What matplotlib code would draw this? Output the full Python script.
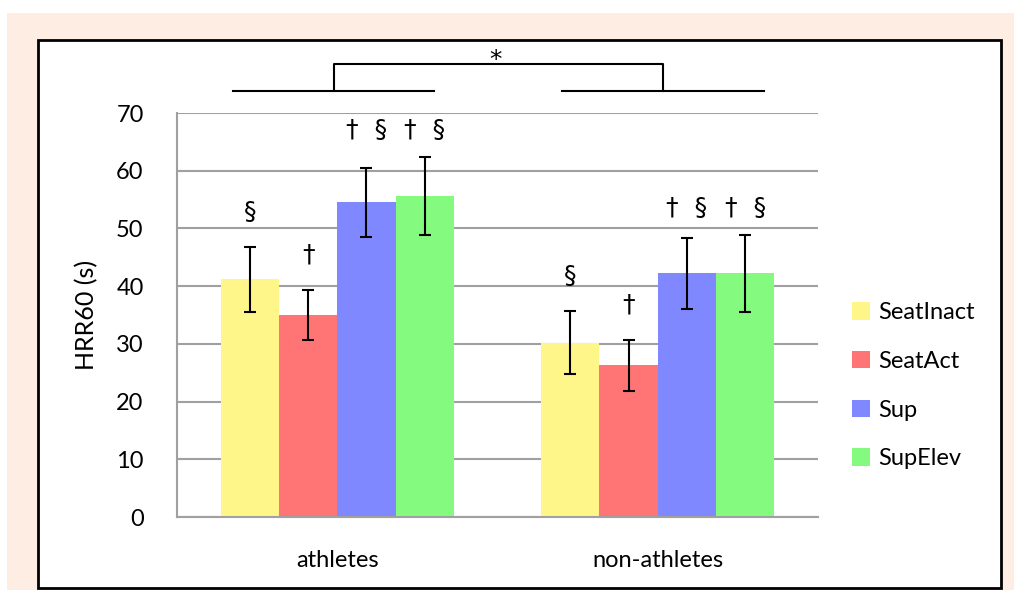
import matplotlib
matplotlib.use("Agg")
import matplotlib.pyplot as plt
from matplotlib.patches import Rectangle
import numpy as np

plt.rcParams['font.family'] = ['Lato', 'DejaVu Sans']

groups = ["athletes", "non-athletes"]
series = ["SeatInact", "SeatAct", "Sup", "SupElev"]
means = {
    "SeatInact": [41.2, 30.2],
    "SeatAct": [35.0, 26.3],
    "Sup": [54.5, 42.2],
    "SupElev": [55.6, 42.2],
}
errors = {
    "SeatInact": [5.6, 5.5],
    "SeatAct": [4.4, 4.4],
    "Sup": [6.0, 6.1],
    "SupElev": [6.7, 6.7],
}
marks = {
    "SeatInact": ["§", "§"],
    "SeatAct": ["†", "†"],
    "Sup": ["†  §", "†  §"],
    "SupElev": ["†  §", "†  §"],
}
colors = ["#FFF68A", "#FF7575", "#8088FF", "#84FB7F"]
yticks = [0, 10, 20, 30, 40, 50, 60, 70]

W, H = 1014, 590
fig = plt.figure(figsize=(W / 100, H / 100), dpi=100)
fig.patch.set_facecolor("white")
fig.add_artist(Rectangle((7 / W, 0), 1 - 7 / W, (H - 13) / H, transform=fig.transFigure,
                         facecolor="#FDEDE3", edgecolor="none", zorder=-3))
fig.add_artist(Rectangle((38 / W, (H - 588) / H), (1001 - 38) / W, (588 - 40) / H,
                         transform=fig.transFigure, facecolor="white",
                         edgecolor="black", linewidth=2, zorder=-2))

ax = fig.add_axes([177 / W, (H - 517) / H, (818 - 177) / W, (517 - 113) / H])
ax.set_facecolor("none")

FS = 17
x = np.arange(len(groups))
bw = 1 / 5.5
tops = {s: [m + e for m, e in zip(means[s], errors[s])] for s in series}
for i, s in enumerate(series):
    pos = x + (i - 1.5) * bw
    ax.bar(pos, means[s], width=bw, color=colors[i], label=s, zorder=2)
    ax.errorbar(pos, means[s], yerr=errors[s], fmt="none", ecolor="black",
                elinewidth=1.5, capsize=4.3, capthick=1.5, zorder=3)
    for j in range(len(groups)):
        if s in ("Sup", "SupElev"):
            ylab = max(tops["Sup"][j], tops["SupElev"][j]) + 4.7
        else:
            ylab = tops[s][j] + 6.1
        ax.text(pos[j], ylab, marks[s][j], ha="center", va="center",
                fontsize=18, family=["DejaVu Sans"], zorder=4)

ax.set_xlim(-0.5, 1.5)
ax.set_ylim(0, 70)
ax.set_yticks(yticks)
ax.set_xticks(x)
ax.set_xticklabels(groups, fontsize=FS)
ax.tick_params(axis="both", length=0, labelsize=FS)
ax.tick_params(axis="y", pad=24)
ax.tick_params(axis="x", pad=24)
ax.yaxis.grid(True, color="#A0A0A0", linewidth=1.5, zorder=0)
ax.set_axisbelow(True)
for sp in ["top", "right"]:
    ax.spines[sp].set_visible(False)
for sp in ["left", "bottom"]:
    ax.spines[sp].set_color("#A0A0A0")
    ax.spines[sp].set_linewidth(1.5)
ax.set_ylabel("HRR60 (s)", fontsize=18, labelpad=13)

# significance bracket
kw = dict(color="black", linewidth=1.5, clip_on=False)
ax.plot([x[0] - 0.325, x[0] + 0.302], [73.8, 73.8], **kw)
ax.plot([x[1] - 0.30, x[1] + 0.33], [73.8, 73.8], **kw)
ax.plot([x[0] - 0.01, x[0] - 0.01, x[1] + 0.016, x[1] + 0.016],
        [73.8, 78.5, 78.5, 73.8], **kw)
ax.text((x[0] + x[1]) / 2 - 0.005, 77.9, "*", ha="center", va="baseline",
        fontsize=18, family=["DejaVu Sans"])

leg = ax.legend(loc="center left", bbox_to_anchor=(1.02, 0.325), frameon=False,
                fontsize=FS, handlelength=0.75, handleheight=0.75, handletextpad=0.35,
                labelspacing=1.17)

fig.savefig("out.png", dpi=100)
